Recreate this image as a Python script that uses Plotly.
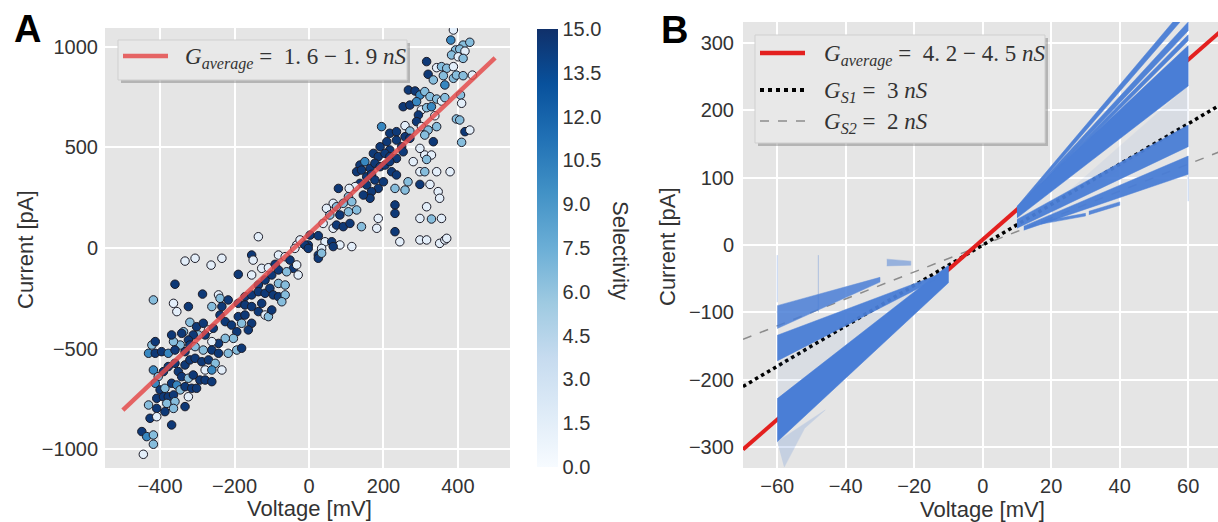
import plotly.graph_objects as go

W, H = 1218, 522


def fx(p):
    return p / W


def fy(p):
    return 1 - p / H


# ---------------- Panel A data ----------------
voltage_a = [
    388, 381, 414, 432, 394, 405, 419, 383, 401, 414, 316, 343, 356, 370, 388, 320, 334, 361, 365, 388,
    396, 414, 439, 267, 285, 298, 311, 325, 343, 356, 365, 407, 410, 253, 271, 289, 302, 316, 329, 338,
    294, 289, 396, 405, 195, 217, 235, 258, 271, 258, 302, 320, 311, 334, 343, 419, 432, 410, 191, 209,
    217, 235, 249, 271, 173, 186, 204, 217, 235, 253, 298, 311, 329, 137, 150, 164, 177, 191, 204, 217,
    222, 235, 280, 316, 343, 298, 311, 379, 128, 141, 155, 168, 177, 186, 200, 155, 168, 164, 137, 124,
    108, 79, 106, 146, 231, 258, 266, 298, 325, 347, 351, 316, 231, 231, 65, 74, 92, 115, 47, 56,
    83, 106, 128, 186, 298, 329, 356, 38, 65, 74, 92, 110, 141, 182, 231, 244, 298, 316, 351, 365,
    370, 3, 25, 43, 61, 83, 115, -33, -24, -2, 25, 34, 65,
    -136, -154, -150, -127, -109, -91, -82, -64, -51, -38, -42, -33, -11, -2, 25, 34, -333, -306, -263, -234,
    -190, -154, -136, -118, -100, -82, -60, -29, -360, -418, -364, -355, -324, -286, -261, -243, -239, -234, -217, -190,
    -172, -154, -136, -118, -105, -82, -64, -96, -82, -64, -73, -172, -154, -136, -118, -109, -100, -127, -320, -337,
    -302, -284, -270, -257, -239, -225, -208, -190, -181, -172, -154, -163, -194, -203, -225, -243, -261, -279, -297, -311,
    -324, -342, -346, -364, -369, -422, -413, -431, -413, -396, -378, -360, -333, -320, -306, -284, -261, -243, -217, -194,
    -181, -418, -405, -391, -378, -360, -351, -333, -320, -306, -288, -270, -252, -279, -261, -234, -342, -324, -311, -293,
    -279, -261, -413, -400, -387, -369, -355, -346, -333, -315, -302, -409, -391, -378, -364, -382, -360, -333, -324, -431,
    -409, -387, -364, -427, -409, -369, -449, -436, -418, -418, -445,
]
current_a = [
    1083, 1033, 1008, 1022, 984, 988, 978, 959, 950, 942, 926, 896, 901, 893, 901, 863, 835, 856, 810, 843,
    859, 856, 859, 785, 780, 760, 777, 752, 740, 730, 747, 760, 719, 702, 710, 727, 686, 697, 702, 657,
    661, 628, 641, 636, 603, 570, 578, 608, 581, 553, 603, 586, 561, 528, 603, 578, 586, 525, 503, 528,
    487, 536, 503, 545, 470, 454, 470, 454, 445, 478, 495, 462, 462, 412, 429, 396, 421, 404, 412, 429,
    379, 363, 429, 440, 379, 379, 379, 379, 379, 387, 354, 366, 338, 296, 329, 313, 280, 247, 321, 305,
    296, 296, 255, 263, 296, 288, 329, 316, 316, 280, 247, 205, 214, 172, 222, 205, 222, 230, 197, 164,
    164, 180, 189, 147, 147, 144, 147, 122, 98, 114, 106, 122, 106, 98, 81, 31, 40, 40, 23, 40,
    48, 64, 61, 31, 31, 15, 7, 15, 40, 15, -35, -2, 7,
    56, -35, -60, -101, -98, -81, -35, -43, -60, -2, -101, -84, 15, -2, -51, -26, -65, -51, -85, -51,
    -131, -134, -184, -159, -134, -109, -118, -134, -180, -258, -275, -316, -291, -229, -291, -233, -250, -291, -258, -275,
    -242, -233, -217, -225, -200, -176, -184, -233, -242, -233, -267, -283, -291, -316, -333, -341, -308, -275, -369, -416,
    -391, -374, -407, -399, -333, -366, -383, -341, -374, -333, -374, -407, -416, -449, -449, -474, -465, -432, -432, -432,
    -457, -424, -482, -465, -432, -482, -465, -523, -523, -515, -523, -507, -515, -482, -490, -507, -507, -523, -523, -507,
    -498, -606, -639, -614, -589, -573, -614, -581, -556, -548, -565, -556, -573, -606, -606, -606, -639, -647, -631, -656,
    -656, -664, -672, -705, -697, -672, -681, -705, -689, -697, -697, -747, -739, -739, -730, -772, -763, -788, -739, -780,
    -797, -813, -797, -846, -838, -879, -912, -937, -929, -975, -1025,
]
selectivity_a = [
    1.5, 10, 6.5, 6.5, 6.5, 6.5, 1.5, 6.5, 1.5, 6.5, 14.5, 1.5, 6.5, 6.5, 1.5, 14.5, 6.5, 6.5, 10, 6.5,
    6.5, 6.5, 1.5, 14.5, 14.5, 10, 6.5, 6.5, 6.5, 1.5, 6.5, 6.5, 1.5, 14.5, 14.5, 10, 1.5, 6.5, 10, 1.5,
    14.5, 14.5, 6.5, 6.5, 10, 14.5, 14.5, 1.5, 6.5, 14.5, 1.5, 6.5, 6.5, 14.5, 6.5, 14.5, 1.5, 6.5, 14.5, 14.5,
    14.5, 14.5, 14.5, 14.5, 14.5, 14.5, 14.5, 14.5, 14.5, 14.5, 1.5, 1.5, 1.5, 14.5, 10, 14.5, 14.5, 14.5, 14.5, 14.5,
    14.5, 14.5, 1.5, 6.5, 1.5, 1.5, 6.5, 1.5, 14.5, 14.5, 14.5, 14.5, 14.5, 14.5, 14.5, 14.5, 14.5, 14.5, 14.5, 1.5,
    1.5, 14.5, 6.5, 14.5, 6.5, 6.5, 6.5, 14.5, 1.5, 1.5, 1.5, 1.5, 14.5, 14.5, 1.5, 6.5, 6.5, 6.5, 1.5, 6.5,
    14.5, 6.5, 6.5, 1.5, 1.5, 6.5, 1.5, 1.5, 1.5, 14.5, 14.5, 14.5, 6.5, 1.5, 14.5, 1.5, 1.5, 1.5, 1.5, 1.5,
    1.5, 14.5, 14.5, 1.5, 14.5, 1.5, 1.5, 1.5, 1.5, 14.5, 14.5, 1.5, 14.5,
    1.5, 14.5, 1.5, 1.5, 1.5, 14.5, 1.5, 1.5, 14.5, 1.5, 14.5, 1.5, 14.5, 14.5, 14.5, 6.5, 1.5, 1.5, 1.5, 1.5,
    14.5, 1.5, 14.5, 14.5, 14.5, 14.5, 6.5, 1.5, 14.5, 6.5, 1.5, 1.5, 14.5, 14.5, 6.5, 1.5, 6.5, 14.5, 14.5, 14.5,
    14.5, 14.5, 14.5, 14.5, 14.5, 6.5, 6.5, 14.5, 14.5, 6.5, 6.5, 14.5, 14.5, 14.5, 1.5, 6.5, 14.5, 14.5, 6.5, 6.5,
    14.5, 14.5, 1.5, 14.5, 14.5, 14.5, 14.5, 14.5, 6.5, 14.5, 14.5, 14.5, 14.5, 6.5, 6.5, 14.5, 1.5, 14.5, 6.5, 14.5,
    14.5, 14.5, 6.5, 6.5, 14.5, 6.5, 14.5, 10, 14.5, 14.5, 10, 14.5, 14.5, 14.5, 6.5, 6.5, 14.5, 14.5, 6.5, 6.5,
    14.5, 10, 6.5, 14.5, 14.5, 14.5, 14.5, 14.5, 14.5, 14.5, 14.5, 14.5, 6.5, 1.5, 10, 1.5, 14.5, 6.5, 14.5, 14.5,
    14.5, 14.5, 10, 14.5, 6.5, 14.5, 10, 6.5, 14.5, 14.5, 14.5, 14.5, 14.5, 14.5, 14.5, 6.5, 6.5, 14.5, 1.5, 6.5,
    14.5, 14.5, 6.5, 14.5, 1.5, 14.5, 14.5, 10, 6.5, 6.5, 1.5,
]
fit_a_v = [-500, 500]
fit_a_i = [-805, 945]

selectivity_ticks = [0.0, 1.5, 3.0, 4.5, 6.0, 7.5, 9.0, 10.5, 12.0, 13.5, 15.0]
blues = ["#f7fbff", "#deebf7", "#c6dbef", "#9ecae1", "#6baed6", "#4292c6", "#2171b5", "#08519c", "#10306a"]

# ---------------- Panel B data ----------------
line_b_v = [-70, 70]
g_avg_i = [-303.5, 319.5]
g_s1_i = [-210, 210]
g_s2_i = [-140, 140]

# recorded I-V traces (outlines of the dense point clouds)
neg_main_v = [-60, -10, -10, -60]
neg_main_i = [-228, -30, -56, -292]
neg_mid_v = [-60, -14, -14, -60]
neg_mid_i = [-134, -46, -52, -172]
neg_top_v = [-60, -30, -30, -60]
neg_top_i = [-90, -48, -55, -124]
neg_fuzz_v = [-60, -46, -52, -58]
neg_fuzz_i = [-292, -245, -272, -330]
neg_gap_v = [-60, -14, -60]
neg_gap_i = [-176, -52, -226]
neg_blob_v = [-28, -21, -21, -28]
neg_blob_i = [-21, -24, -30, -31]

pos_main_v = [10, 60, 60, 10]
pos_main_i = [57, 296, 236, 40]
pos_steep1_v = [10, 60, 60, 10]
pos_steep1_i = [57, 358, 345, 52]
pos_steep2_v = [10, 60, 60, 10]
pos_steep2_i = [55, 331, 318, 50]
pos_steep3_v = [10, 60, 60, 10]
pos_steep3_i = [54, 312, 303, 50]
pos_low1_v = [10, 60, 60, 10]
pos_low1_i = [38, 178, 146, 25]
pos_low2_v = [12, 60, 60, 12]
pos_low2_i = [28, 132, 105, 22]
pos_dash1_v = [31, 40, 40, 31]
pos_dash1_i = [50, 64, 59, 45]
pos_dash2_v = [17, 30, 30, 17]
pos_dash2_i = [35, 47, 43, 31]
pos_gap_v = [20, 60, 60, 20]
pos_gap_i = [57, 236, 180, 45]

streaks_v = [[-60, -60], [-48, -48], [60, 60]]
streaks_i = [[-85, -15], [-100, -15], [105, 65]]

BAND = "#4a7ed6"
SANS = "Liberation Sans"
SERIF = "Liberation Serif"
TXT = "#333333"

fig = go.Figure()

# ---- Panel A ----
fig.add_trace(go.Scatter(
    x=voltage_a, y=current_a, mode="markers", xaxis="x", yaxis="y",
    marker=dict(
        color=selectivity_a, cmin=0, cmax=15,
        colorscale=[[i / 8, c] for i, c in enumerate(blues)],
        size=8.5, line=dict(color="#1c1c28", width=1),
        colorbar=dict(
            x=fx(537), xanchor="left", y=fy(248), yanchor="middle",
            len=438 / H, lenmode="fraction", thickness=21, thicknessmode="pixels",
            xpad=0, ypad=0, outlinewidth=0, ticks="",
            tickvals=selectivity_ticks, ticktext=[f"{t:.1f}" for t in selectivity_ticks],
            tickfont=dict(family=SANS, size=20, color=TXT),
        ),
    ),
    hoverinfo="skip",
))
fig.add_trace(go.Scatter(
    x=fit_a_v, y=fit_a_i, mode="lines", xaxis="x", yaxis="y",
    line=dict(color="rgba(228,76,76,0.85)", width=4.5), hoverinfo="skip",
))

# ---- Panel B ----
fig.add_trace(go.Scatter(x=line_b_v, y=g_s2_i, mode="lines", xaxis="x2", yaxis="y2",
                         line=dict(color="#8c8c8c", width=1.5, dash="dash"), hoverinfo="skip"))
fig.add_trace(go.Scatter(x=line_b_v, y=g_s1_i, mode="lines", xaxis="x2", yaxis="y2",
                         line=dict(color="black", width=3.5, dash="dot"), hoverinfo="skip"))
fig.add_trace(go.Scatter(x=line_b_v, y=g_avg_i, mode="lines", xaxis="x2", yaxis="y2",
                         line=dict(color="#e3201f", width=4), hoverinfo="skip"))

bands = [
    (neg_gap_v, neg_gap_i, 0.07),
    (neg_fuzz_v, neg_fuzz_i, 0.2),
    (neg_main_v, neg_main_i, 1.0),
    (neg_mid_v, neg_mid_i, 0.95),
    (neg_top_v, neg_top_i, 0.85),
    (neg_blob_v, neg_blob_i, 0.5),
    (pos_gap_v, pos_gap_i, 0.08),
    (pos_steep1_v, pos_steep1_i, 0.95),
    (pos_steep2_v, pos_steep2_i, 0.95),
    (pos_steep3_v, pos_steep3_i, 0.95),
    (pos_main_v, pos_main_i, 1.0),
    (pos_low1_v, pos_low1_i, 0.95),
    (pos_low2_v, pos_low2_i, 0.95),
    (pos_dash1_v, pos_dash1_i, 0.9),
    (pos_dash2_v, pos_dash2_i, 0.9),
]
for bv, bi, op in bands:
    fig.add_trace(go.Scatter(
        x=bv, y=bi, mode="lines", fill="toself", xaxis="x2", yaxis="y2",
        fillcolor=BAND, line=dict(color=BAND, width=0.5), opacity=op, hoverinfo="skip",
    ))
for sv, si in zip(streaks_v, streaks_i):
    fig.add_trace(go.Scatter(x=sv, y=si, mode="lines", xaxis="x2", yaxis="y2",
                             line=dict(color=BAND, width=1), opacity=0.35, hoverinfo="skip"))

axis_common = dict(
    showgrid=True, gridcolor="white", gridwidth=1.6, zeroline=False, showline=False,
    ticks="", tickfont=dict(family=SANS, size=20, color=TXT),
)
fig.update_layout(
    width=W, height=H, margin=dict(l=0, r=0, t=0, b=0),
    paper_bgcolor="white", plot_bgcolor="#e5e5e5", showlegend=False,
    xaxis=dict(domain=[fx(105), fx(510)], range=[-548, 540], anchor="y",
               tickvals=[-400, -200, 0, 200, 400], ticklabelstandoff=4, **axis_common),
    yaxis=dict(domain=[fy(468), fy(28)], range=[-1093, 1093], anchor="x",
               tickvals=[-1000, -500, 0, 500, 1000], ticklabelstandoff=6, **axis_common),
    xaxis2=dict(domain=[fx(743), 1.0], range=[-70, 68.7], anchor="y2",
                tickvals=[-60, -40, -20, 0, 20, 40, 60], ticklabelstandoff=4, **axis_common),
    yaxis2=dict(domain=[fy(468), fy(22)], range=[-331, 331], anchor="x2",
                tickvals=[-300, -200, -100, 0, 100, 200, 300], ticklabelstandoff=8, **axis_common),
)

shapes = []
annotations = []


def legend_box(x0, y0, x1, y1):
    shapes.append(dict(type="rect", xref="paper", yref="paper",
                       x0=fx(x0 + 3), x1=fx(x1 + 3), y0=fy(y1 + 3), y1=fy(y0 + 3),
                       fillcolor="rgba(120,120,120,0.45)", line=dict(width=0), layer="above"))
    shapes.append(dict(type="rect", xref="paper", yref="paper",
                       x0=fx(x0), x1=fx(x1), y0=fy(y1), y1=fy(y0),
                       fillcolor="#e8e8e8", line=dict(color="#cfcfcf", width=1), layer="above"))


def legend_line(x0, x1, y, color, width, dash="solid"):
    shapes.append(dict(type="line", xref="paper", yref="paper",
                       x0=fx(x0), x1=fx(x1), y0=fy(y), y1=fy(y),
                       line=dict(color=color, width=width, dash=dash), layer="above"))


def text(x, y, s, size, family=SANS, xanchor="center", angle=0, color=TXT, bold=False):
    if bold:
        s = f"<b>{s}</b>"
    annotations.append(dict(x=fx(x), y=fy(y), xref="paper", yref="paper", text=s, showarrow=False,
                            xanchor=xanchor, yanchor="middle", textangle=angle,
                            font=dict(family=family, size=size, color=color)))


# legend A
legend_box(118, 40, 407, 80)
legend_line(123, 168, 56, "rgba(228,76,76,0.85)", 4.5)
text(183, 58, "<i>G</i><sub><i>average</i></sub> =  1. 6 − 1. 9 <i>nS</i>", 23, SERIF, "left")

# legend B
legend_box(755, 35, 1045, 143)
legend_line(760, 805, 53, "#e3201f", 4.5)
legend_line(760, 805, 90, "black", 4, "dot")
legend_line(760, 805, 121, "#8c8c8c", 1.5, "dash")
text(822, 55, "<i>G</i><sub><i>average</i></sub> =  4. 2 − 4. 5 <i>nS</i>", 23, SERIF, "left")
text(822, 92, "<i>G</i><sub><i>S1</i></sub> =  3 <i>nS</i>", 23, SERIF, "left")
text(822, 123, "<i>G</i><sub><i>S2</i></sub> =  2 <i>nS</i>", 23, SERIF, "left")

# panel letters and axis titles
text(27, 29, "A", 38, SANS, color="black", bold=True)
text(674, 30, "B", 38, SANS, color="black", bold=True)
text(25, 250, "Current [pA]", 22, angle=-90)
text(309, 508, "Voltage [mV]", 22)
text(667, 247, "Current [pA]", 22, angle=-90)
text(982, 509, "Voltage [mV]", 22)
text(621, 250, "Selectivity", 22, angle=90)

fig.update_layout(shapes=shapes, annotations=annotations)
fig.write_html("out.html")
